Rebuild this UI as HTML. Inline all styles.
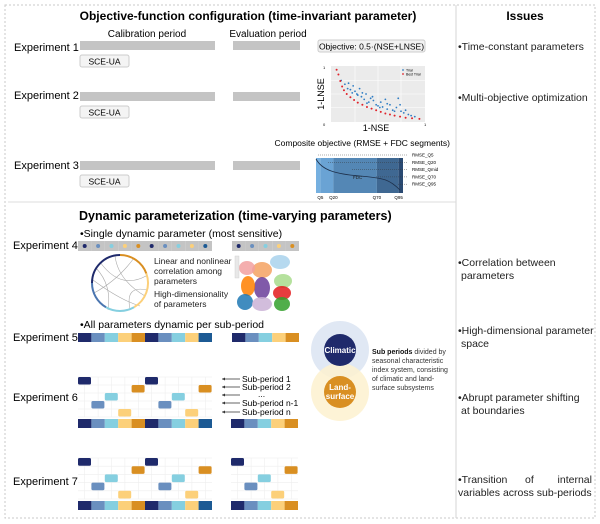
<!DOCTYPE html>
<html><head><meta charset="utf-8"><style>
html,body{margin:0;padding:0;background:#fff}
svg{display:block;font-family:"Liberation Sans",sans-serif}
</style></head><body>
<svg id="fig" width="600" height="524" viewBox="0 0 600 524">
<rect x="5" y="5" width="590" height="513" fill="none" stroke="#c8c8c8" stroke-dasharray="2,2"/>
<line x1="456" y1="5" x2="456" y2="518" stroke="#d4d4d4"/>
<line x1="8" y1="202" x2="456" y2="202" stroke="#dcdcdc"/>
<text x="248" y="20" font-size="12" font-weight="bold" text-anchor="middle">Objective-function configuration (time-invariant parameter)</text>
<text x="525" y="20" font-size="12" font-weight="bold" text-anchor="middle">Issues</text>
<text x="147" y="37" font-size="10" text-anchor="middle">Calibration period</text>
<text x="268" y="37" font-size="10" text-anchor="middle">Evaluation period</text>
<g id="exps"></g>
<rect x="318" y="40" width="107" height="12" rx="2" fill="#f2f2f2" stroke="#ccc"/>
<text x="371.5" y="49.5" font-size="8.5" text-anchor="middle">Objective: 0.5·(NSE+LNSE)</text>
<g id="scatter"></g>
<text x="450" y="146" font-size="8.5" text-anchor="end">Composite objective (RMSE + FDC segments)</text>
<g id="fdc"></g>
<text x="79" y="220" font-size="12.5" font-weight="bold">Dynamic parameterization (time-varying parameters)</text>
<text x="80" y="237" font-size="10.5">•Single dynamic parameter (most sensitive)</text>
<g id="strips"></g>
<g id="chord"></g>
<g font-size="8.5" fill="#222">
<text x="154" y="264">Linear and nonlinear</text><text x="154" y="274">correlation among</text><text x="154" y="284">parameters</text>
<text x="154" y="297">High-dimensionality</text><text x="154" y="307">of parameters</text></g>
<g id="clusters"></g>
<text x="80" y="328" font-size="10.5">•All parameters dynamic per sub-period</text>
<g>
<circle cx="340" cy="350" r="29" fill="#dde6f3" opacity="0.9"/>
<circle cx="340" cy="392" r="29" fill="#fdf1cf" opacity="0.85"/>
<circle cx="340" cy="350" r="16" fill="#1f2a6b"/>
<circle cx="340" cy="392" r="16" fill="#d98f22"/>
<text x="340" y="353" font-size="8" fill="#fff" font-weight="bold" text-anchor="middle">Climatic</text>
<text x="340" y="390" font-size="8" fill="#fff" font-weight="bold" text-anchor="middle">Land-</text>
<text x="340" y="399" font-size="8" fill="#fff" font-weight="bold" text-anchor="middle">surface</text>
</g>
<g font-size="7" fill="#333">
<text x="372" y="354"><tspan font-weight="bold" fill="#111">Sub periods</tspan> divided by</text>
<text x="372" y="363">seasonal characteristic</text><text x="372" y="372">index system, consisting</text>
<text x="372" y="381">of climatic and land-</text><text x="372" y="390">surface subsystems</text></g>
<g font-size="8.5">
<text x="242" y="382">Sub-period 1</text><text x="242" y="390">Sub-period 2</text><text x="258" y="397">...</text>
<text x="242" y="406">Sub-period n-1</text><text x="242" y="415">Sub-period n</text>
<g stroke="#333" stroke-width="0.8"><line x1="222" y1="379" x2="240" y2="379"/><line x1="222" y1="387" x2="240" y2="387"/><line x1="222" y1="395" x2="240" y2="395"/><line x1="222" y1="403" x2="240" y2="403"/><line x1="222" y1="412" x2="240" y2="412"/></g>
<g fill="#333"><path d="M222 377.5 L225 379 L222 380.5Z" transform="rotate(180 223.5 379)"/><path d="M222 385.5 L225 387 L222 388.5Z" transform="rotate(180 223.5 387)"/><path d="M222 393.5 L225 395 L222 396.5Z" transform="rotate(180 223.5 395)"/><path d="M222 401.5 L225 403 L222 404.5Z" transform="rotate(180 223.5 403)"/><path d="M222 410.5 L225 412 L222 413.5Z" transform="rotate(180 223.5 412)"/></g>
</g>
<g font-size="10.5" fill="#222">
<text x="458" y="50">•Time-constant parameters</text>
<text x="458" y="101">•Multi-objective optimization</text>
<text x="458" y="266">•Correlation between</text><text x="461" y="279">parameters</text>
<text x="458" y="334">•High-dimensional parameter</text><text x="461" y="347">space</text>
<text x="458" y="401">•Abrupt parameter shifting</text><text x="461" y="414">at boundaries</text>
<text x="458" y="483">•Transition</text><text x="525" y="483">of</text><text x="592" y="483" text-anchor="end">internal</text>
<text x="458" y="496">variables across sub-periods</text>
</g>
</svg>
<script>
const NS='http://www.w3.org/2000/svg';
function mk(p,t,a,txt){const e=document.createElementNS(NS,t);for(const k in a)e.setAttribute(k,a[k]);if(txt!==undefined)e.textContent=txt;p.appendChild(e);return e;}
// Pareto scatter data (1-NSE, 1-LNSE)
const bestX=[0.05,0.07,0.09,0.11,0.13,0.16,0.2,0.24,0.28,0.33,0.38,0.43,0.48,0.53,0.58,0.63,0.68,0.74,0.8,0.87,0.95];
const bestY=[0.95,0.86,0.74,0.64,0.57,0.5,0.44,0.39,0.34,0.3,0.26,0.23,0.2,0.17,0.14,0.12,0.1,0.08,0.06,0.05,0.04];
const trialX=[0.1,0.14,0.17,0.2,0.22,0.25,0.27,0.3,0.32,0.35,0.37,0.4,0.42,0.45,0.48,0.5,0.53,0.55,0.58,0.6,0.63,0.66,0.7,0.72,0.75,0.78,0.8,0.83,0.86,0.9,0.18,0.23,0.28,0.33,0.38,0.44,0.52,0.6,0.68,0.74];
const trialY=[0.75,0.68,0.6,0.58,0.52,0.55,0.5,0.6,0.45,0.4,0.5,0.35,0.42,0.38,0.3,0.28,0.35,0.26,0.4,0.22,0.3,0.2,0.25,0.42,0.18,0.15,0.2,0.12,0.1,0.08,0.7,0.65,0.48,0.52,0.33,0.45,0.25,0.32,0.18,0.3];
// FDC segment boundaries (exceedance %)
const fdcBounds=[0,5,20,70,95,100];
const fdcTicks=['Q5','Q20','Q70','Q95'];
const fdcTickVals=[5,20,70,95];
const fdcLabels=['RMSE_Q5','RMSE_Q20','RMSE_Qmid','RMSE_Q70','RMSE_Q95'];
// sub-period sequence (color index per cell) and box rows
const palette=['#1f2a6b','#6a8fbf','#85cfe0','#fcd07a','#d98f22','#1c5a94'];
const seqMain=[0,1,2,3,4,0,1,2,3,5];
const seqEval=[0,1,2,3,4];
const rowOfColor=[0,3,2,4,1];

const g=document.getElementById('exps');
['1','2','3'].forEach(function(n,i){
  const y=[41,92,161][i];
  const lab=mk(g,'text',{x:14,y:[51,99,169][i],'font-size':11},'Experiment '+n);
  
  
  const b1=mk(g,'rect',{x:80,y:y,width:135,height:9,fill:'#c4c4c4'});
  
  
  const b2=mk(g,'rect',{x:233,y:y,width:67,height:9,fill:'#c4c4c4'});
  
  
  const bx=mk(g,'rect',{x:80,y:y+14,width:49,height:12,rx:2,fill:'#f4f4f4',stroke:'#ccc'});
  
  
  const bt=mk(g,'text',{x:104.5,y:y+23.5,'font-size':8.5,'text-anchor':'middle'},'SCE-UA');
  
  
});
[[249,'4'],[341,'5'],[401,'6'],[485,'7']].forEach(function(r){
  const t=mk(g,'text',{x:13,y:r[0],'font-size':11},'Experiment '+r[1]);
  
  
});

// scatter
const sc=document.getElementById('scatter');
const sx=v=>332+v*92, sy=v=>121-v*54;
mk(sc,'rect',{x:331,y:66,width:94,height:56,fill:'#ebebeb'});
[0.25,0.5,0.75].forEach(v=>{mk(sc,'line',{x1:sx(v),x2:sx(v),y1:66,y2:122,stroke:'#fff','stroke-width':0.6});mk(sc,'line',{x1:331,x2:425,y1:sy(v),y2:sy(v),stroke:'#fff','stroke-width':0.6});});
trialX.forEach((v,i)=>{const c=mk(sc,'circle',{cx:sx(v),cy:sy(trialY[i]),r:0.9,fill:'#2f7dc4'});});
bestX.forEach((v,i)=>{const c=mk(sc,'circle',{cx:sx(v),cy:sy(bestY[i]),r:1,fill:'#e0232b'});});
mk(sc,'circle',{cx:403,cy:70,r:0.9,fill:'#2f7dc4'});mk(sc,'text',{x:406,y:71.5,'font-size':3.5},'Trial');
mk(sc,'circle',{cx:403,cy:74,r:0.9,fill:'#e0232b'});mk(sc,'text',{x:406,y:75.5,'font-size':3.5},'Best Trial');
mk(sc,'text',{x:323,y:69,'font-size':4},'1');mk(sc,'text',{x:323,y:126,'font-size':4},'0');mk(sc,'text',{x:424,y:126,'font-size':4},'1');
mk(sc,'text',{x:376,y:131,'font-size':9,'text-anchor':'middle'},'1-NSE');
mk(sc,'text',{x:0,y:0,'font-size':9,'text-anchor':'middle',transform:'translate(324,94) rotate(-90)'},'1-LNSE');

// FDC
const fd=document.getElementById('fdc');
const fx=v=>316+v*0.87;
const fcols=['#76b0e0','#6aa3d4','#5487b5','#3f6892','#2a4a72'];
for(let i=0;i<5;i++){const r=mk(fd,'rect',{x:fx(fdcBounds[i]),y:158,width:fx(fdcBounds[i+1])-fx(fdcBounds[i]),height:35,fill:fcols[i]});}
mk(fd,'path',{d:'M316 159 C322 170,335 174,360 176 S390 180,400 190',fill:'none',stroke:'#1d2f4a','stroke-width':0.8});
mk(fd,'text',{x:353,y:179,'font-size':4.5,fill:'#222'},'FDC');
fdcTickVals.forEach((v,i)=>mk(fd,'text',{x:fx(v),y:199,'font-size':4.5,'text-anchor':'middle'},fdcTicks[i]));
fdcLabels.forEach((l,i)=>{const y=155+i*7.3;mk(fd,'line',{x1:[318,328,352,376,398][i],x2:408,y1:y,y2:y,stroke:'#333','stroke-width':0.4,'stroke-dasharray':'1,1'});mk(fd,'text',{x:412,y:y+1.5,'font-size':4.5},l);});

// strips
const st=document.getElementById('strips');
function strip(x0,y,seq,h,dots,name){seq.forEach((c,i)=>{
  if(dots){const r=mk(st,'rect',{x:x0+i*13.4,y:y,width:13.4,height:h,fill:'#c4c4c4'});
    mk(st,'circle',{cx:x0+i*13.4+6.7,cy:y+h/2,r:2,fill:palette[c]});}
  else{const r=mk(st,'rect',{x:x0+i*13.4,y:y,width:13.4,height:h,fill:palette[c]});}
});}
strip(78,241,seqMain,10,true,'exp4-strip');strip(232,241,seqEval,10,true,'exp4-eval-strip');
strip(78,333,seqMain,9,false,'exp5-strip');strip(232,333,seqEval,9,false,'exp5-eval-strip');
function staircase(x0,top,bottom,seq,name){
  const rowH=(bottom-top)/5;
  for(let k=0;k<6;k++)mk(st,'line',{x1:x0,x2:x0+seq.length*13.4,y1:top+k*rowH,y2:top+k*rowH,stroke:'#eee','stroke-width':0.6});
  seq.forEach((c,i)=>{mk(st,'line',{x1:x0+i*13.4+6.7,x2:x0+i*13.4+6.7,y1:top,y2:bottom,stroke:'#eee','stroke-width':0.6});
    const ci=c===5?4:c;const rr=rowOfColor[ci];
    const b=mk(st,'rect',{x:x0+i*13.4,y:top+rr*rowH,width:13,height:rowH-0.5,rx:1.5,fill:palette[ci]});
    });
  strip(x0,bottom+2,seq,9,false,name+'-bar');
}
staircase(78,377,417,seqMain,'exp6');strip(231,419,seqEval,9,false,'exp6-eval-bar');
staircase(78,458,499,seqMain,'exp7');staircase(231,458,499,seqEval,'exp7-eval');

// chord
const ch=document.getElementById('chord');
const cx=120,cy=283,R=28;
function arc(a0,a1,col){const p=a=>[cx+R*Math.cos(a*Math.PI/180),cy+R*Math.sin(a*Math.PI/180)];const s=p(a0),e=p(a1);mk(ch,'path',{d:`M${s[0]} ${s[1]} A${R} ${R} 0 0 1 ${e[0]} ${e[1]}`,fill:'none',stroke:col,'stroke-width':2});}
mk(ch,'circle',{cx:cx,cy:cy,r:R,fill:'#fff',stroke:'#ccc','stroke-width':0.5});
['M100 262 Q120 290 146 276','M94 293 Q118 280 134 258','M108 310 Q112 285 96 268','M130 309 Q125 285 147 290','M93 280 Q120 300 140 306','M115 256 Q118 280 145 296'].forEach(d=>mk(ch,'path',{d:d,fill:'none',stroke:'#aaa','stroke-width':0.6}));
arc(180,270,'#1f2a6b');arc(270,340,'#d98f22');arc(340,60,'#fcd07a');arc(60,120,'#85cfe0');arc(120,180,'#4b76b0');

// clusters
const cl=document.getElementById('clusters');
[[280,262,10,7,'#a9d2ec'],[262,270,10,8,'#f4a261'],[247,268,8,7,'#f2a0a0'],[283,281,9,7,'#a8dc8c'],[262,288,8,11,'#6a3d9a'],[282,293,9,7,'#e31a1c'],[248,286,7,10,'#ff7f00'],[245,302,8,8,'#1f78b4'],[262,304,10,7,'#cab2d6'],[282,304,8,7,'#33a02c']].forEach(e=>{const el=mk(cl,'ellipse',{cx:e[0],cy:e[1],rx:e[2],ry:e[3],fill:e[4],opacity:0.85});});
mk(cl,'rect',{x:235,y:256,width:4,height:22,fill:'#e8e8e8',stroke:'#ccc','stroke-width':0.4});
</script>
</body></html>
